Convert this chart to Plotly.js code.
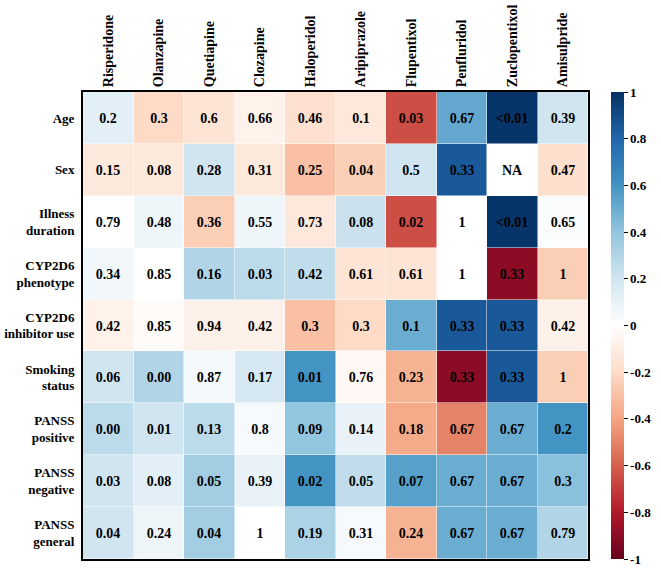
<!DOCTYPE html>
<html>
<head>
<meta charset="utf-8">
<script src="https://cdn.plot.ly/plotly-3.0.1.min.js"></script>
<style>html,body{margin:0;padding:0;background:#fff;}#chart{width:661px;height:570px;}</style>
</head>
<body>
<div id="chart"></div>
<script>
const drugs = ["Risperidone","Olanzapine","Quetiapine","Clozapine","Haloperidol","Aripiprazole","Flupentixol","Penfluridol","Zuclopentixol","Amisulpride"];
const factors = ["Age","Sex","Illness<br>duration","CYP2D6<br>phenotype","CYP2D6<br>inhibitor use","Smoking<br>status","PANSS<br>positive","PANSS<br>negative","PANSS<br>general"];

// estimated correlation coefficients (colour)
const corr = [
  [0.12,-0.20,-0.15,-0.07,-0.17,-0.13,-0.65,0.52,0.98,0.20],
  [-0.12,-0.12,0.20,-0.12,-0.30,-0.25,0.20,0.85,null,-0.18],
  [0.00,0.07,-0.25,0.07,-0.13,0.22,-0.65,0.00,0.98,0.02],
  [0.06,0.00,0.30,0.27,0.25,-0.15,-0.15,0.00,-0.90,-0.25],
  [-0.07,-0.02,-0.08,-0.08,-0.30,-0.20,0.50,0.85,0.85,-0.08],
  [0.20,0.30,0.05,0.18,0.60,-0.04,-0.35,-0.90,0.85,-0.25],
  [0.27,0.20,0.27,0.04,0.40,0.10,-0.38,-0.50,0.50,0.60],
  [0.20,0.12,0.35,0.10,0.60,0.25,0.55,0.50,0.50,0.42],
  [0.20,0.08,0.35,0.00,0.32,0.04,-0.35,0.50,0.50,0.30]
];

// p-values shown as text
const pvals = [
  ["0.2","0.3","0.6","0.66","0.46","0.1","0.03","0.67","<0.01","0.39"],
  ["0.15","0.08","0.28","0.31","0.25","0.04","0.5","0.33","NA","0.47"],
  ["0.79","0.48","0.36","0.55","0.73","0.08","0.02","1","<0.01","0.65"],
  ["0.34","0.85","0.16","0.03","0.42","0.61","0.61","1","0.33","1"],
  ["0.42","0.85","0.94","0.42","0.3","0.3","0.1","0.33","0.33","0.42"],
  ["0.06","0.00","0.87","0.17","0.01","0.76","0.23","0.33","0.33","1"],
  ["0.00","0.01","0.13","0.8","0.09","0.14","0.18","0.67","0.67","0.2"],
  ["0.03","0.08","0.05","0.39","0.02","0.05","0.07","0.67","0.67","0.3"],
  ["0.04","0.24","0.04","1","0.19","0.31","0.24","0.67","0.67","0.79"]
];

const cbTicks = [-1,-0.8,-0.6,-0.4,-0.2,0,0.2,0.4,0.6,0.8,1];

const rdbu = [
  [0.0,"#67001f"],[0.1,"#b2182b"],[0.2,"#d6604d"],[0.3,"#f4a582"],[0.4,"#fddbc7"],
  [0.5,"#ffffff"],[0.6,"#d1e5f0"],[0.7,"#92c5de"],[0.8,"#4393c3"],[0.9,"#2166ac"],[1.0,"#053061"]
];

const font = "Liberation Serif, Times New Roman, serif";

const trace = {
  type: "heatmap",
  z: corr,
  x: drugs,
  y: factors,
  text: pvals,
  texttemplate: "<b>%{text}</b>",
  textfont: {family: font, size: 14, color: "#000"},
  colorscale: rdbu,
  zmin: -1, zmax: 1,
  xgap: 0.5, ygap: 0.5,
  hoverongaps: false,
  colorbar: {
    x: 1.045, xanchor: "left", xref: "paper",
    y: 0.5, yanchor: "middle", len: 1.0, lenmode: "fraction",
    ypad: 0, xpad: 0,
    thickness: 13,
    outlinewidth: 0,
    tickvals: cbTicks,
    ticktext: cbTicks.map(v => "<b>" + v + "</b>"),
    ticks: "outside", ticklen: 4, tickcolor: "#000",
    tickfont: {family: font, size: 13, color: "#000"}
  }
};

const layout = {
  width: 661, height: 570,
  margin: {l: 83, r: 73, t: 92, b: 11, autoexpand: false},
  paper_bgcolor: "#fff",
  plot_bgcolor: "#fff",
  xaxis: {
    side: "top", tickangle: -90,
    tickfont: {family: font, size: 14, color: "#000"},
    tickvals: drugs, ticktext: drugs.map(d => "<b>" + d + "</b>"),
    showline: true, mirror: true, linecolor: "#000", linewidth: 2,
    ticks: "", showgrid: false, zeroline: false, fixedrange: true
  },
  yaxis: {
    autorange: "reversed",
    tickfont: {family: font, size: 13, color: "#000"},
    tickvals: factors, ticktext: factors.map(d => "<b>" + d + "</b>"),
    showline: true, mirror: true, linecolor: "#000", linewidth: 2,
    ticks: "", ticklabelstandoff: 4, showgrid: false, zeroline: false, fixedrange: true
  }
};

Plotly.newPlot("chart", [trace], layout, {displayModeBar: false, staticPlot: true});
</script>
</body>
</html>
